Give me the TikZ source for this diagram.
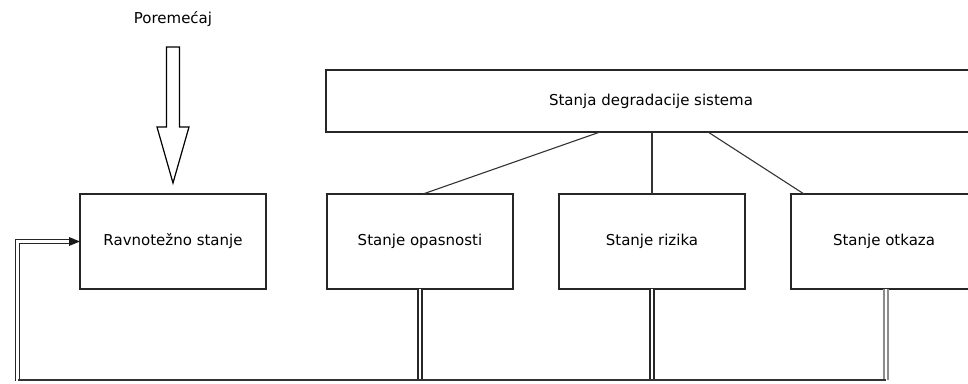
\documentclass[tikz,border=0pt]{standalone}
\usepackage{fontspec}
\setmainfont{DejaVu Sans}
\usetikzlibrary{arrows.meta,calc}
\begin{document}
\begin{tikzpicture}[x=1pt,y=-1pt,
  box/.style={draw=black!85, line width=1.3pt, minimum width=186pt, minimum height=95pt,
    inner sep=0pt, outer sep=0pt, font=\fontsize{15}{18}\selectfont},
  link/.style={draw=black!80, line width=1.1pt},
  dbl/.style={draw=black!85, double=white, double distance=2.8pt, line width=1.2pt},
  lbl/.style={font=\fontsize{15}{18}\selectfont}]
\useasboundingbox (0,0) rectangle (968,383);
% nodes
\node[box, minimum width=650pt, minimum height=62pt] (deg) at (651,101) {Stanja degradacije sistema};
\node[box] (rav) at (173,241.5) {Ravnotežno stanje};
\node[box] (opa) at (420,241.5) {Stanje opasnosti};
\node[box] (riz) at (652,241.5) {Stanje rizika};
\node[box] (otk) at (884,241.5) {Stanje otkaza};
\node[lbl] (por) at (173,19) {Poremećaj};
% hierarchy links
\draw[link] ($(deg.south)+(-51,0)$) -- ($(opa.north)+(3,0)$);
\draw[link] (riz.north |- deg.south) -- (riz.north);
\draw[link] ($(deg.south)+(57,0)$) -- ($(otk.north west)+(13,0)$);
% hollow disturbance arrow
\coordinate (pt) at (173,183);
\draw[line width=1.2pt, fill=white] (pt) -- ++(-16,-56) -- ++(9.5,0) -- ++(0,-80)
  -- ++(13,0) -- ++(0,80) -- ++(9.5,0) -- cycle;
% feedback lines
\coordinate (bl) at (17.5,380);
\coordinate (br) at (886,380);
\draw[dbl] (opa.south) -- (opa.south |- bl);
\draw[dbl] (riz.south) -- (riz.south |- bl);
\draw[dbl, draw=black!45] (br |- otk.south) -- (br);
\draw[dbl] ($(bl)+(0,1)$) -- (bl |- rav.west) -- ($(rav.west)+(-6,0)$);
\fill[black!90] (rav.west) -- ++(-11,-4.5) -- ++(0,9) -- cycle;
\draw[link] (bl) -- (br);
\end{tikzpicture}
\end{document}
